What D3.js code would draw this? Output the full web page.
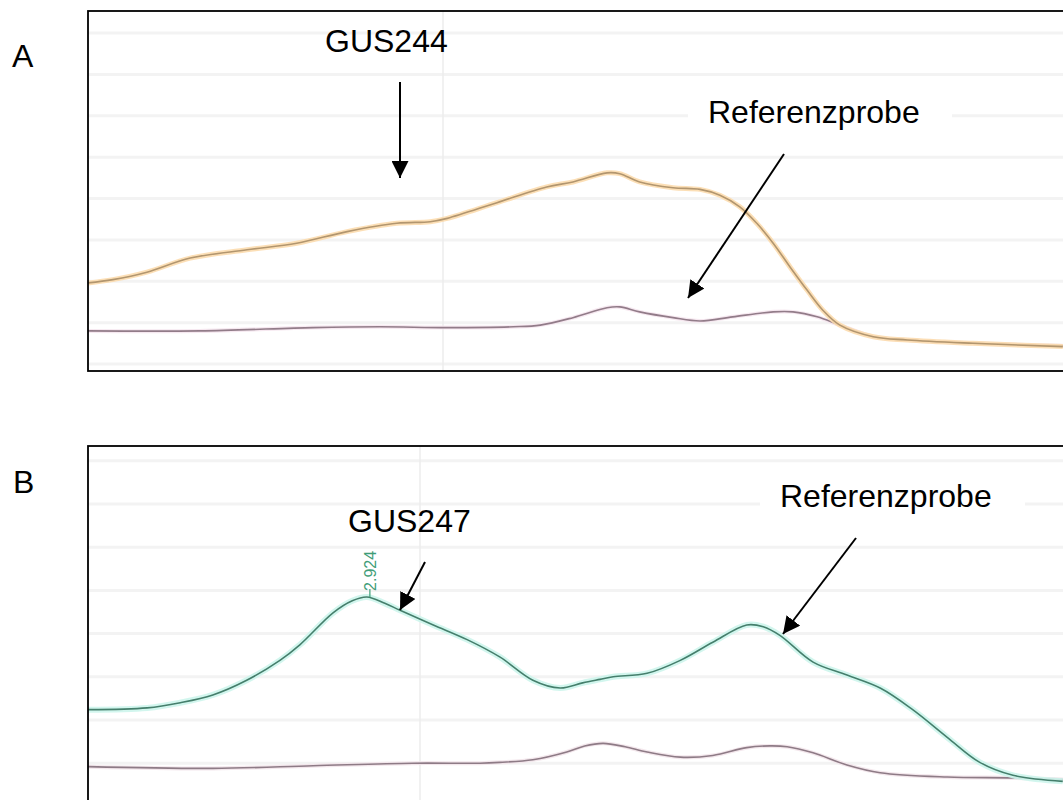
<!DOCTYPE html>
<html>
<head>
<meta charset="utf-8">
<script src="https://cdn.jsdelivr.net/npm/d3@7"></script>
<style>
  html, body { margin: 0; padding: 0; background: #fff; }
  svg { display: block; }
  text { font-family: "Liberation Sans", Arial, sans-serif; }
</style>
</head>
<body>
<svg id="chart" width="1063" height="800"></svg>
<script>
// ---- Data: melting/elution profiles (x = run time, y = signal) ----
const gridYValues = [0.5, 1, 1.5, 2, 2.5, 3, 3.5, 4, 4.5];
const gridXValues = [20];

// Panel A
const timeA_gus244 = [15.00, 15.35, 15.83, 16.44, 17.24, 17.94, 18.65, 19.35, 19.82, 20.06, 20.76, 21.46, 21.83, 22.31, 22.49, 22.77, 23.24, 23.62, 23.90, 24.18, 24.42, 24.65, 24.89, 25.13, 25.35, 25.59, 26.06, 26.54, 27.46, 28.73];
const signalA_gus244 = [1.48, 1.52, 1.61, 1.78, 1.88, 1.96, 2.10, 2.20, 2.22, 2.26, 2.45, 2.64, 2.70, 2.81, 2.80, 2.70, 2.63, 2.61, 2.54, 2.40, 2.20, 1.96, 1.67, 1.39, 1.15, 0.97, 0.83, 0.79, 0.75, 0.71];
const timeA_ref = [15.00, 16.58, 18.17, 19.11, 20.06, 20.99, 21.37, 21.83, 22.31, 22.49, 22.77, 23.24, 23.62, 24.08, 24.65, 24.93, 25.27, 25.59, 26.06, 26.54, 27.46, 28.73];
const signalA_ref = [0.90, 0.90, 0.94, 0.95, 0.94, 0.95, 0.97, 1.06, 1.18, 1.19, 1.13, 1.06, 1.02, 1.07, 1.13, 1.13, 1.07, 0.97, 0.83, 0.79, 0.75, 0.72];

// Panel B
const timeB_gus247 = [15.00, 15.89, 16.39, 16.88, 17.39, 17.89, 18.19, 18.69, 18.98, 19.20, 19.47, 19.70, 20.20, 20.71, 21.20, 21.70, 22.11, 22.45, 22.71, 22.91, 23.42, 23.92, 24.41, 24.92, 25.17, 25.42, 25.92, 26.43, 26.93, 27.42, 27.94, 28.43, 28.93, 29.68];
const signalB_gus247 = [1.62, 1.64, 1.70, 1.79, 1.96, 2.19, 2.37, 2.74, 2.88, 2.924, 2.85, 2.77, 2.60, 2.43, 2.23, 1.96, 1.87, 1.93, 1.97, 2.00, 2.04, 2.19, 2.40, 2.60, 2.58, 2.48, 2.17, 2.02, 1.87, 1.62, 1.30, 1.01, 0.86, 0.79];
const timeB_ref = [15.00, 16.88, 18.39, 19.89, 20.90, 21.20, 21.70, 22.21, 22.48, 22.76, 23.09, 23.42, 23.92, 24.41, 24.92, 25.27, 25.53, 25.92, 26.43, 26.93, 27.94, 28.93, 29.68];
const signalB_ref = [0.96, 0.94, 0.97, 1.00, 1.00, 1.01, 1.04, 1.13, 1.20, 1.23, 1.19, 1.13, 1.07, 1.09, 1.18, 1.20, 1.19, 1.12, 0.98, 0.89, 0.84, 0.83, 0.81];

const peakLabelB = { time: 19.20, value: 2.924 };

// ---- Layout ----
const svg = d3.select("#chart");

const panels = [
  {
    id: "A", label: "A", labelPos: [12, 67],
    box: { x: 88, y: 11, w: 1000, h: 360 },
    x: d3.scaleLinear().domain([15, 29]).range([88, 1082]),
    y: d3.scaleLinear().domain([0.5, 4.5]).range([364, 33]),
    series: [
      { t: timeA_ref, v: signalA_ref, core: "#927c89", halo: "#f5e6ee", haloW: 4 },
      { t: timeA_gus244, v: signalA_gus244, core: "#b2966f", halo: "#fcdcae", haloW: 5 }
    ],
    boxes: [ { x: 688, y: 80, w: 264, h: 75 } ],
    notes: [
      { text: "GUS244", x: 325, y: 52 },
      { text: "Referenzprobe", x: 708, y: 123 }
    ],
    arrows: [
      { x1: 400, y1: 82, x2: 400, y2: 178 },
      { x1: 784, y1: 154, x2: 688, y2: 298 }
    ]
  },
  {
    id: "B", label: "B", labelPos: [13, 493],
    box: { x: 88, y: 446, w: 1000, h: 380 },
    x: d3.scaleLinear().domain([15, 30]).range([88, 1084]),
    y: d3.scaleLinear().domain([0.5, 4.5]).range([806.4, 460.8]),
    series: [
      { t: timeB_ref, v: signalB_ref, core: "#8e7b86", halo: "#f2e4ea", haloW: 4 },
      { t: timeB_gus247, v: signalB_gus247, core: "#457f6c", halo: "#cdf5ec", haloW: 6 }
    ],
    boxes: [ { x: 760, y: 465, w: 265, h: 53 } ],
    notes: [
      { text: "GUS247", x: 348, y: 532 },
      { text: "Referenzprobe", x: 780, y: 507 }
    ],
    arrows: [
      { x1: 425, y1: 562, x2: 400, y2: 610 },
      { x1: 856, y1: 538, x2: 783, y2: 634 }
    ],
    peak: peakLabelB
  }
];

const defs = svg.append("defs");
defs.append("marker")
  .attr("id", "head")
  .attr("viewBox", "0 0 10 10")
  .attr("refX", 10).attr("refY", 5)
  .attr("markerWidth", 8.5).attr("markerHeight", 8.5)
  .attr("markerUnits", "strokeWidth")
  .attr("orient", "auto")
  .append("path").attr("d", "M0,0 L10,5 L0,10 Z").attr("fill", "#000");

panels.forEach(p => {
  const g = svg.append("g").attr("class", "panel-" + p.id);
  const b = p.box;

  defs.append("clipPath").attr("id", "clip" + p.id)
    .append("rect").attr("x", b.x).attr("y", b.y).attr("width", b.w).attr("height", b.h);

  const plot = g.append("g").attr("clip-path", `url(#clip${p.id})`);

  plot.append("rect").attr("x", b.x).attr("y", b.y).attr("width", b.w).attr("height", b.h).attr("fill", "#fff");

  // horizontal gridlines
  plot.selectAll("line.gy").data(gridYValues).join("line")
    .attr("class", "gy")
    .attr("x1", b.x).attr("x2", b.x + b.w)
    .attr("y1", d => p.y(d)).attr("y2", d => p.y(d))
    .attr("stroke", "#f3f3f3").attr("stroke-width", 3);

  // vertical gridlines
  plot.selectAll("line.gx").data(gridXValues).join("line")
    .attr("class", "gx")
    .attr("x1", d => p.x(d)).attr("x2", d => p.x(d))
    .attr("y1", b.y).attr("y2", b.y + b.h)
    .attr("stroke", "#ececec").attr("stroke-width", 1.5);

  // traces: soft halo underneath a thin core line
  const line = d3.line()
    .x(d => p.x(d[0])).y(d => p.y(d[1]))
    .curve(d3.curveCatmullRom.alpha(0.5));

  p.series.forEach(s => {
    const pts = s.t.map((t, i) => [t, s.v[i]]);
    plot.append("path").datum(pts).attr("d", line)
      .attr("fill", "none").attr("stroke", s.halo)
      .attr("stroke-width", s.haloW).attr("stroke-linejoin", "round").attr("opacity", 0.9);
    plot.append("path").datum(pts).attr("d", line)
      .attr("fill", "none").attr("stroke", s.core)
      .attr("stroke-width", 1.6).attr("stroke-linejoin", "round");
  });

  // peak value label
  if (p.peak) {
    const px = p.x(p.peak.time), py = p.y(p.peak.value);
    plot.append("line")
      .attr("x1", px + 3).attr("x2", px + 3).attr("y1", py).attr("y2", py - 8)
      .attr("stroke", "#4aa581").attr("stroke-width", 1.3);
    plot.append("text")
      .attr("transform", `translate(${px + 9},${py - 6}) rotate(-90)`)
      .attr("font-size", 16).attr("fill", "#3f9d78")
      .text(d3.format(".3f")(p.peak.value));
  }

  // white boxes behind annotations
  plot.selectAll("rect.lb").data(p.boxes).join("rect")
    .attr("class", "lb")
    .attr("x", d => d.x).attr("y", d => d.y).attr("width", d => d.w).attr("height", d => d.h)
    .attr("fill", "#fff");

  // frame
  g.append("rect").attr("x", b.x).attr("y", b.y).attr("width", b.w).attr("height", b.h)
    .attr("fill", "none").attr("stroke", "#000").attr("stroke-width", 1.8);

  // annotations
  g.selectAll("text.note").data(p.notes).join("text")
    .attr("class", "note")
    .attr("x", d => d.x).attr("y", d => d.y)
    .attr("font-size", 32).attr("fill", "#000")
    .text(d => d.text);

  g.selectAll("line.arrow").data(p.arrows).join("line")
    .attr("class", "arrow")
    .attr("x1", d => d.x1).attr("y1", d => d.y1)
    .attr("x2", d => d.x2).attr("y2", d => d.y2)
    .attr("stroke", "#000").attr("stroke-width", 2)
    .attr("marker-end", "url(#head)");

  // panel letter
  g.append("text")
    .attr("x", p.labelPos[0]).attr("y", p.labelPos[1])
    .attr("font-size", 32).attr("fill", "#000")
    .text(p.label);
});
</script>
</body>
</html>
